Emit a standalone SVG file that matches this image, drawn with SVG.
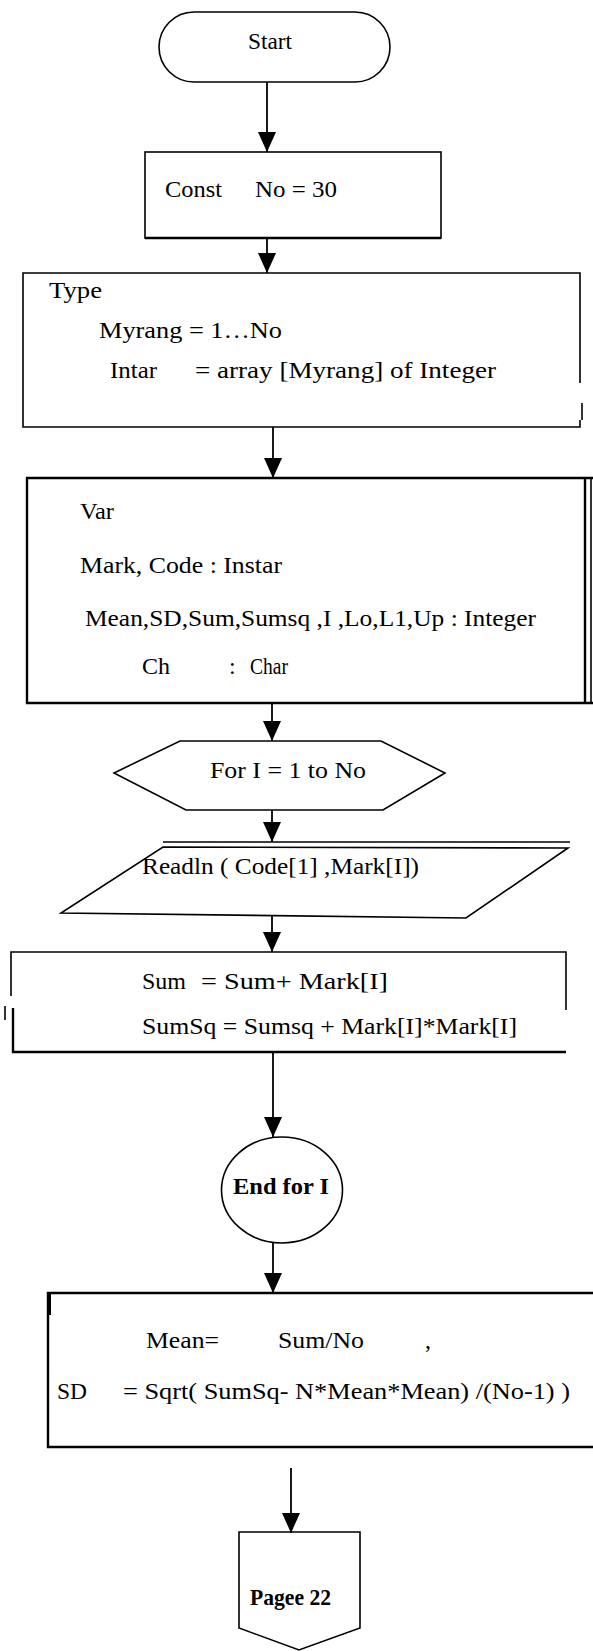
<svg xmlns="http://www.w3.org/2000/svg" width="593" height="1651" viewBox="0 0 593 1651">
<style>
text{font-family:"Liberation Serif","Times New Roman",serif;fill:#000;font-size:24px}
.b{font-weight:bold}
.s{fill:none;stroke:#000;stroke-width:1.6}
.t{fill:none;stroke:#000;stroke-width:2.4}
.c{fill:none;stroke:#000;stroke-width:1.8}
</style>
<defs>
<marker id="ah" viewBox="0 0 20 18" refX="20" refY="9" markerWidth="20" markerHeight="18" markerUnits="userSpaceOnUse" orient="auto">
<path d="M0,0 L20,9 L0,18 Z" fill="#000"/>
</marker>
</defs>
<rect width="593" height="1651" fill="#fff"/>
<g id="connectors">
<line class="c" x1="267" y1="82" x2="267" y2="152" marker-end="url(#ah)"/>
<line class="c" x1="267" y1="238" x2="267" y2="273" marker-end="url(#ah)"/>
<line class="c" x1="273" y1="427" x2="273" y2="478" marker-end="url(#ah)"/>
<line class="c" x1="272" y1="703" x2="272" y2="741" marker-end="url(#ah)"/>
<line class="c" x1="272" y1="810" x2="272" y2="842" marker-end="url(#ah)"/>
<line class="c" x1="272" y1="915" x2="272" y2="952" marker-end="url(#ah)"/>
<line class="c" x1="273" y1="1052" x2="273" y2="1137" marker-end="url(#ah)"/>
<line class="c" x1="273" y1="1243" x2="273" y2="1293" marker-end="url(#ah)"/>
<line class="c" x1="291" y1="1468" x2="291" y2="1533" marker-end="url(#ah)"/>
</g>
<g id="start">
<rect class="s" x="159" y="12" width="231" height="70" rx="35" ry="35"/>
<text x="248" y="49" font-size="23" textLength="44" lengthAdjust="spacingAndGlyphs">Start</text>
</g>
<g id="const">
<rect class="s" x="145" y="152" width="296" height="86"/>
<line class="t" x1="145" y1="238" x2="441" y2="238"/>
<text x="165" y="197" textLength="57" lengthAdjust="spacingAndGlyphs">Const</text>
<text x="255" y="197" textLength="82" lengthAdjust="spacingAndGlyphs">No = 30</text>
</g>
<g id="type">
<path class="s" d="M580,383 V273 H23 V427 H580 V420"/>
<line class="s" x1="582" y1="403" x2="582" y2="420"/>
<text x="49" y="298" textLength="53" lengthAdjust="spacingAndGlyphs">Type</text>
<text x="99" y="338" textLength="183" lengthAdjust="spacingAndGlyphs">Myrang = 1…No</text>
<text x="110" y="378" textLength="47" lengthAdjust="spacingAndGlyphs">Intar</text>
<text x="195" y="378" textLength="301" lengthAdjust="spacingAndGlyphs">= array [Myrang] of Integer</text>
</g>
<g id="var">
<path class="t" d="M593,478 H27 V703 H593"/>
<line class="t" x1="585" y1="478" x2="585" y2="703"/>
<line class="s" x1="591" y1="478" x2="591" y2="703"/>
<text x="80" y="519" textLength="34" lengthAdjust="spacingAndGlyphs">Var</text>
<text x="80" y="573" textLength="202" lengthAdjust="spacingAndGlyphs">Mark, Code : Instar</text>
<text x="85" y="626" textLength="451" lengthAdjust="spacingAndGlyphs">Mean,SD,Sum,Sumsq ,I ,Lo,L1,Up : Integer</text>
<text x="142" y="674" textLength="28" lengthAdjust="spacingAndGlyphs">Ch</text>
<text x="229" y="674">:</text>
<text x="250" y="674" font-size="21" textLength="38" lengthAdjust="spacingAndGlyphs">Char</text>
</g>
<g id="for">
<polygon class="s" points="180,741 381,741 445,773 383,810 186,810 114,773"/>
<text x="210" y="778" textLength="156" lengthAdjust="spacingAndGlyphs">For I  = 1 to No</text>
</g>
<g id="readln">
<line class="s" x1="163" y1="842" x2="570" y2="842"/>
<polygon class="s" points="163,847 568,848 466,918 61,913"/>
<text x="142" y="874" textLength="277" lengthAdjust="spacingAndGlyphs">Readln ( Code[1] ,Mark[I])</text>
</g>
<g id="sum">
<path class="s" d="M11,996 V952 H566 V1010"/>
<line class="s" x1="5" y1="1006" x2="5" y2="1020"/>
<path class="t" d="M13,1008 V1052 H566"/>
<text x="142" y="989" textLength="44" lengthAdjust="spacingAndGlyphs">Sum</text>
<text x="201" y="989" textLength="187" lengthAdjust="spacingAndGlyphs">= Sum+ Mark[I]</text>
<text x="142" y="1034" textLength="375" lengthAdjust="spacingAndGlyphs">SumSq = Sumsq + Mark[I]*Mark[I]</text>
</g>
<g id="endfor">
<ellipse class="s" cx="282" cy="1190" rx="60.5" ry="53"/>
<text class="b" x="233" y="1194" textLength="96" lengthAdjust="spacingAndGlyphs">End  for I</text>
</g>
<g id="mean">
<path class="t" d="M593,1293 H48 V1447 H593"/>
<line x1="49" y1="1293" x2="49" y2="1315" stroke="#000" stroke-width="4"/>
<text x="146" y="1348" textLength="73" lengthAdjust="spacingAndGlyphs">Mean=</text>
<text x="278" y="1348" textLength="86" lengthAdjust="spacingAndGlyphs">Sum/No</text>
<text x="425" y="1348">,</text>
<text x="57" y="1399" textLength="30" lengthAdjust="spacingAndGlyphs">SD</text>
<text x="123" y="1399" textLength="447" lengthAdjust="spacingAndGlyphs">= Sqrt( SumSq- N*Mean*Mean) /(No-1) )</text>
</g>
<g id="page">
<path class="s" d="M239,1532 H360 V1628 L299,1650 L239,1628 Z"/>
<text class="b" x="250" y="1605" font-size="21" textLength="81" lengthAdjust="spacingAndGlyphs">Pagee 22</text>
</g>
</svg>
